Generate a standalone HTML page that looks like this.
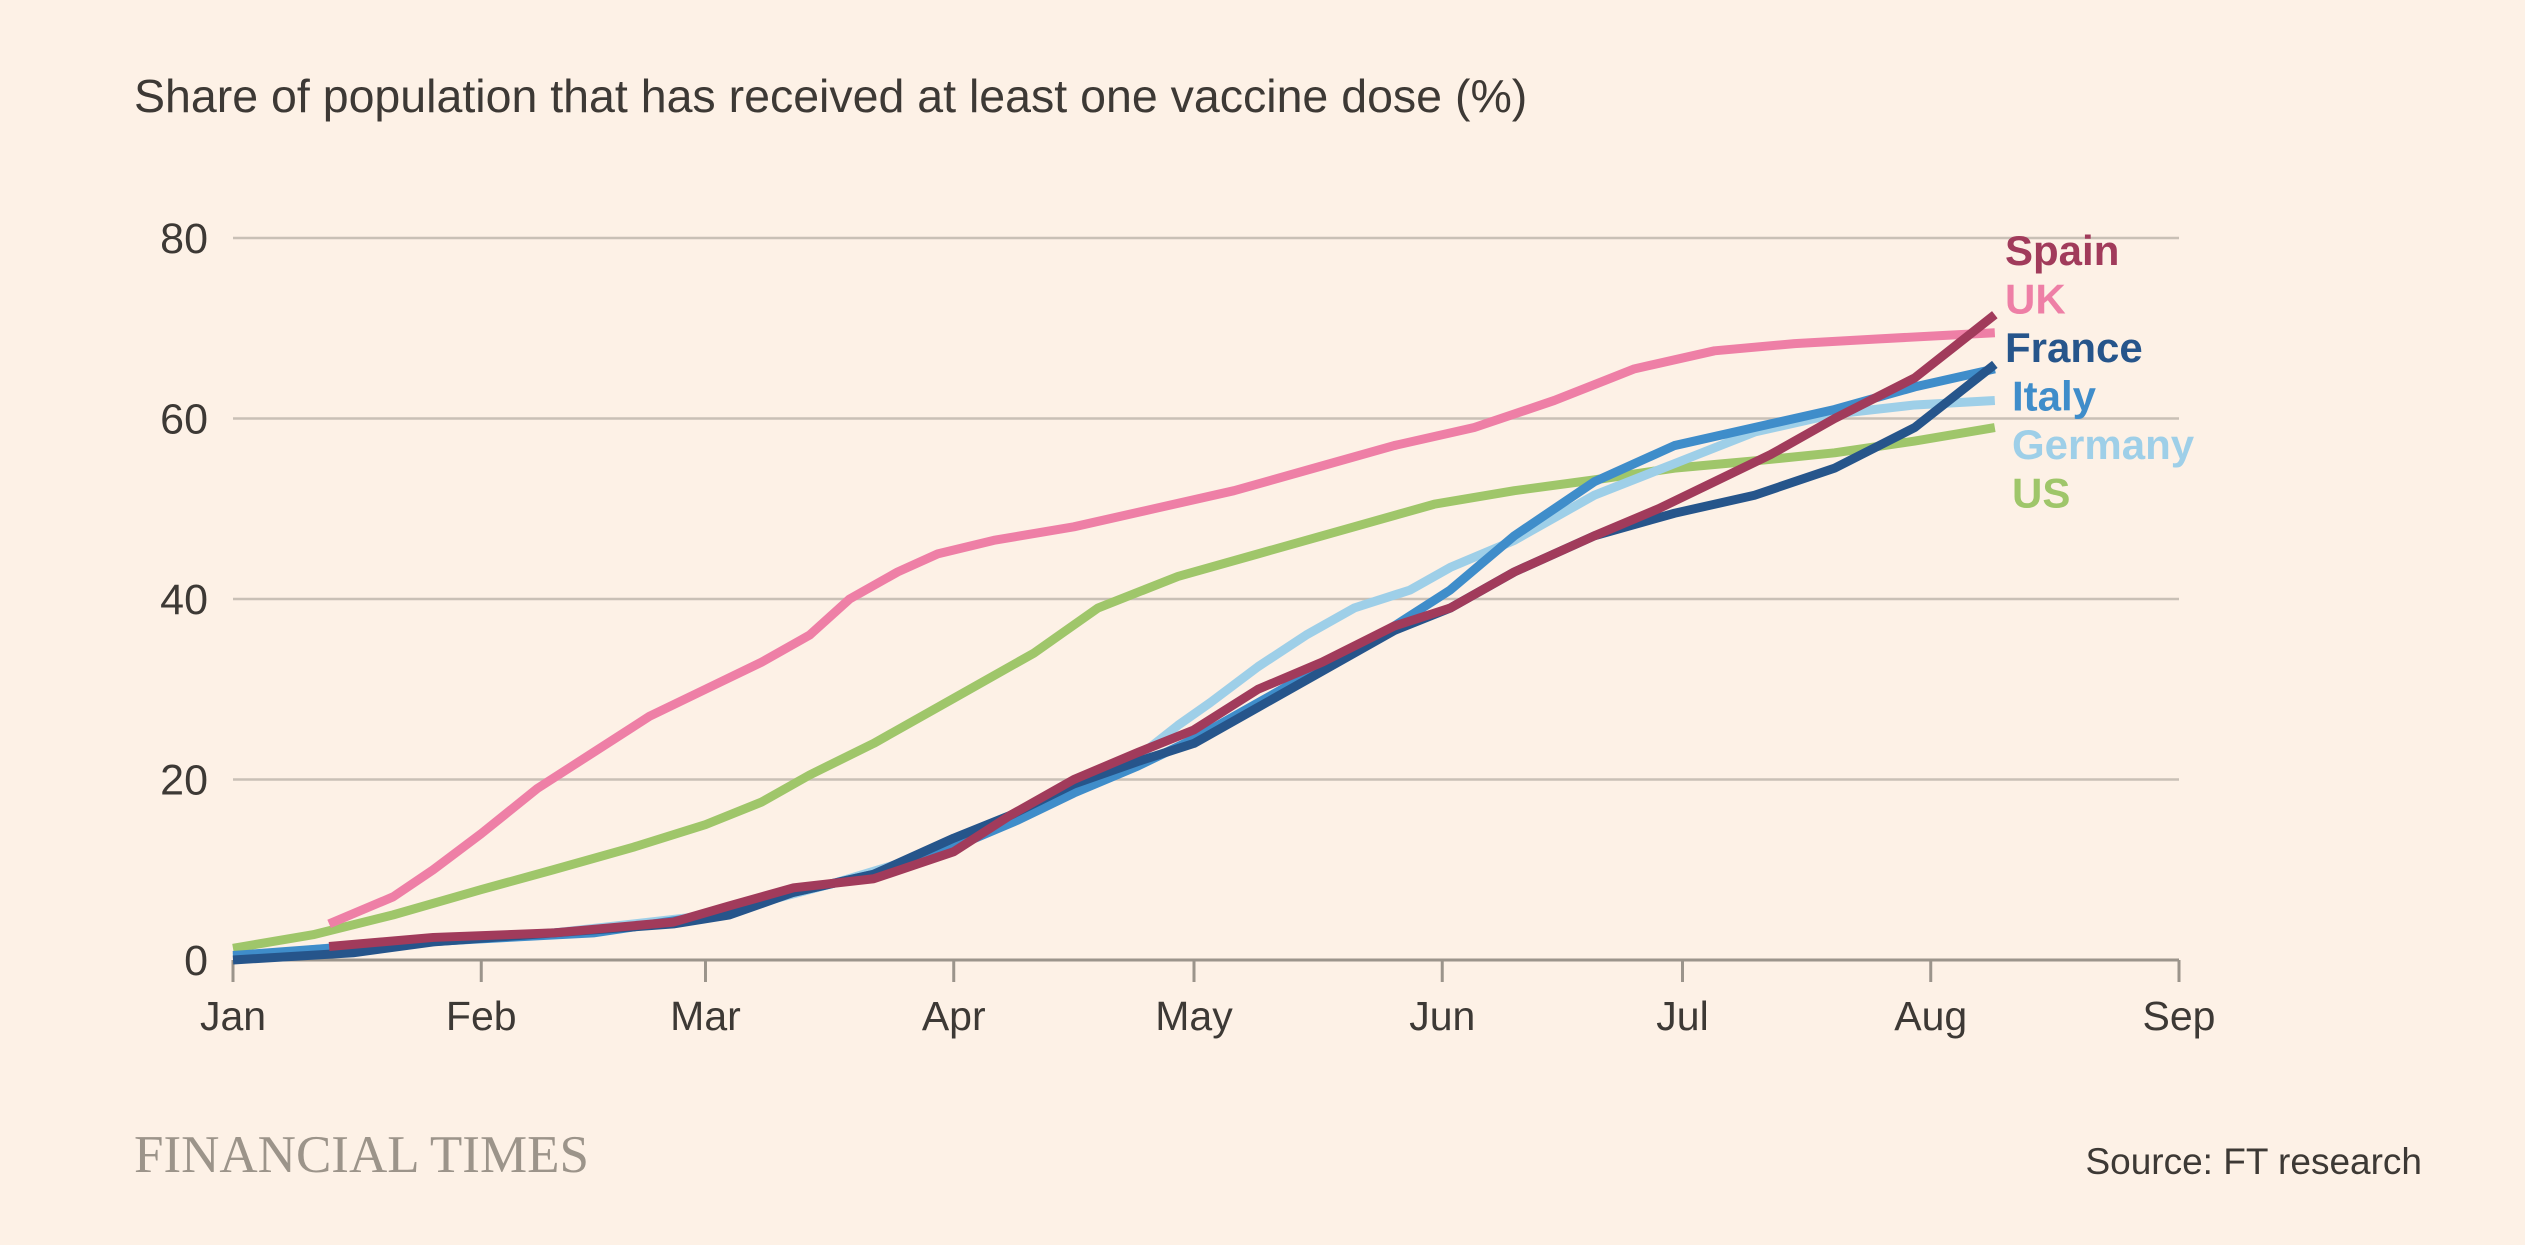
<!DOCTYPE html>
<html><head><meta charset="utf-8"><style>
body{margin:0;background:#fdf1e6;}
svg{display:block;}
text{font-family:"Liberation Sans",sans-serif;}
</style></head><body>
<svg id="chart" width="2525" height="1245">
<rect width="2525" height="1245" fill="#fdf1e6"/>
<text x="134" y="112" font-size="46.5" fill="#3d3935">Share of population that has received at least one vaccine dose (%)</text>
<g id="grid"></g><g id="lines"></g><g id="labels"></g>
<text x="134" y="1172" font-size="53" fill="#9c948a" style="font-family:'Liberation Serif',serif">FINANCIAL TIMES</text>
<text x="2422" y="1174" text-anchor="end" font-size="37" fill="#3d3935">Source: FT research</text>
</svg>
<script>
const monthLabels=["Jan","Feb","Mar","Apr","May","Jun","Jul","Aug","Sep"];
const monthDays=[0,31,59,90,120,151,181,212,243];
const yTicks=[0,20,40,60,80];
const seriesNames=["US","UK","Germany","Italy","France","Spain"];
const usData=[[0,1.3],[10,2.8],[20,5],[31,7.8],[40,10],[50,12.5],[59,15],[66,17.5],[72,20.5],[80,24],[90,29],[100,34],[108,39],[118,42.5],[128,45],[140,48],[150,50.5],[160,52],[170,53.2],[180,54.5],[190,55.3],[200,56.2],[210,57.5],[220,59]];
const ukData=[[12,4],[20,7],[25,10],[31,14],[38,19],[45,23],[52,27],[59,30],[66,33],[72,36],[77,40],[83,43],[88,45],[95,46.5],[105,48],[115,50],[125,52],[135,54.5],[145,57],[155,59],[165,62],[175,65.5],[185,67.5],[195,68.3],[205,68.8],[220,69.5]];
const germanyData=[[0,0.3],[20,2],[40,3],[60,5],[75,8.5],[90,12.5],[105,19],[113,22.5],[118,26],[122,28.5],[128,32.5],[134,36],[140,39],[147,41],[152,43.5],[160,46.5],[170,51.5],[180,55],[190,58.5],[200,60.5],[210,61.5],[220,62]];
const italyData=[[0,0.5],[15,1.5],[30,2.3],[45,3],[60,5],[70,7.5],[80,9.5],[90,12.5],[98,15.5],[105,18.5],[113,21.5],[120,24.5],[128,28.5],[136,32.5],[145,37],[152,41],[160,47],[170,53],[180,57],[190,59],[200,61],[210,63.5],[220,65.5]];
const franceData=[[0,0],[15,0.8],[25,2],[40,3],[55,4],[62,5],[70,7.5],[80,9.5],[90,13.5],[97,16],[105,19.5],[113,22],[120,24],[128,28],[136,32],[145,36.5],[152,39],[160,43],[170,47],[180,49.5],[190,51.5],[200,54.5],[210,59],[220,66]];
const spainData=[[12,1.5],[25,2.5],[40,3],[55,4.2],[62,6],[70,8],[80,9],[90,12],[97,16],[105,20],[113,23],[120,25.5],[128,30],[136,33],[145,37],[152,39],[160,43],[170,47],[178,50],[185,53],[192,56],[200,60],[210,64.5],[215,68],[220,71.5]];
const NS="http://www.w3.org/2000/svg";
const X0=233,X1=2179,Y0=960,Y80=238;
const xs=d=>X0+(X1-X0)*d/243;
const ys=v=>Y0-(Y0-Y80)*v/80;
function mk(tag,attrs,parent){const e=document.createElementNS(NS,tag);for(const k in attrs)e.setAttribute(k,attrs[k]);parent.appendChild(e);return e;}
const grid=document.getElementById('grid');
yTicks.forEach(t=>{
  const l=mk('line',{x1:X0,x2:X1,y1:ys(t),y2:ys(t),stroke:t===0?'#9b948b':'#c9c0b6','stroke-width':t===0?3:2.5},grid);
  
  
  const tx=mk('text',{x:208,y:ys(t)+15,'text-anchor':'end','font-size':43,fill:'#3d3935'},grid);
  tx.textContent=t;
  
  
});
monthDays.forEach((d,i)=>{
  const l=mk('line',{x1:xs(d),x2:xs(d),y1:Y0,y2:Y0+22,stroke:'#9b948b','stroke-width':3},grid);
  
  
  const tx=mk('text',{x:xs(d),y:1030,'text-anchor':'middle','font-size':41,fill:'#3d3935'},grid);
  tx.textContent=monthLabels[i];
  
  
});
const datas=[usData,ukData,germanyData,italyData,franceData,spainData];
const colors=["#9fc66a","#ee7fa6","#9ecfe8","#3f8dca","#26558b","#a13b5b"];
const lines=document.getElementById('lines');
datas.forEach((data,i)=>{
  const p=mk('polyline',{points:data.map(([d,v])=>xs(d)+','+ys(v)).join(' '),fill:'none',stroke:colors[i],'stroke-width':9,'stroke-linejoin':'round'},lines);
  
  
});
const legendOrder=["Spain","UK","France","Italy","Germany","US"];
const legendX=[2005,2005,2005,2012,2012,2012];
const labels=document.getElementById('labels');
legendOrder.forEach((n,i)=>{
  const idx=seriesNames.indexOf(n);
  const tx=mk('text',{x:legendX[i],y:265+i*48.5,'font-size':42,'font-weight':'bold',fill:colors[idx]},labels);
  tx.textContent=n;
  
  
});
</script>
</body></html>
